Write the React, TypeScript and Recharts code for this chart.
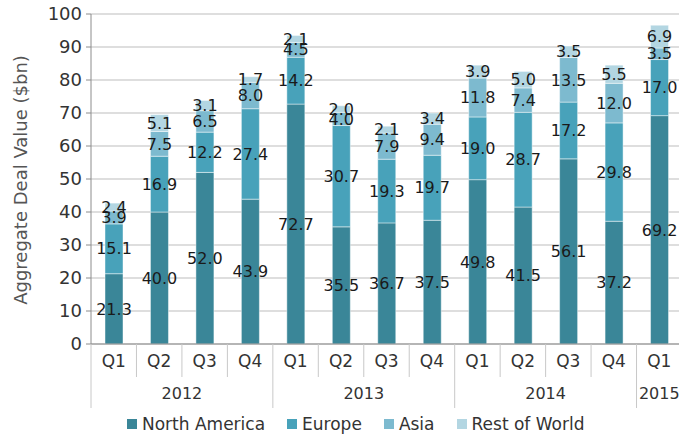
import { BarChart, Bar, XAxis, YAxis, CartesianGrid, Legend, LabelList } from 'recharts';

const quarters = ['Q1', 'Q2', 'Q3', 'Q4', 'Q1', 'Q2', 'Q3', 'Q4', 'Q1', 'Q2', 'Q3', 'Q4', 'Q1'];
const years = ['2012', '2012', '2012', '2012', '2013', '2013', '2013', '2013', '2014', '2014', '2014', '2014', '2015'];

const northAmerica = [21.3, 40.0, 52.0, 43.9, 72.7, 35.5, 36.7, 37.5, 49.8, 41.5, 56.1, 37.2, 69.2];
const europe = [15.1, 16.9, 12.2, 27.4, 14.2, 30.7, 19.3, 19.7, 19.0, 28.7, 17.2, 29.8, 17.0];
const asia = [3.9, 7.5, 6.5, 8.0, 4.5, 4.0, 7.9, 9.4, 11.8, 7.4, 13.5, 12.0, 3.5];
const restOfWorld = [2.4, 5.1, 3.1, 1.7, 2.1, 2.0, 2.1, 3.4, 3.9, 5.0, 3.5, 5.5, 6.9];

const yTicks = [0, 10, 20, 30, 40, 50, 60, 70, 80, 90, 100];

const series = [
  { key: 'northAmerica', name: 'North America', color: '#3a8698' },
  { key: 'europe', name: 'Europe', color: '#48a2ba' },
  { key: 'asia', name: 'Asia', color: '#7dbacf' },
  { key: 'restOfWorld', name: 'Rest of World', color: '#b3d6e2' },
];

const CHART_W = 682;
const CHART_H = 437;
const Y_AXIS_W = 91;
const BAND = (CHART_W - Y_AXIS_W) / quarters.length;
const FONT = '"DejaVu Sans", sans-serif';
const SEP = '#c8c8c8';

const data = quarters.map((q, i) => ({
  quarter: q,
  year: years[i],
  northAmerica: northAmerica[i],
  europe: europe[i],
  asia: asia[i],
  restOfWorld: restOfWorld[i],
}));

const startsYear = (i: number) => i === 0 || years[i] !== years[i - 1];

function QuarterTick({ x, y, payload, index }: any) {
  return (
    <g>
      {!startsYear(index) && (
        <line x1={x - BAND / 2} x2={x - BAND / 2} y1={y} y2={y + 33} stroke={SEP} />
      )}
      <text x={x} y={y + 23} textAnchor="middle" fill="#333" fontSize={17} fontFamily={FONT}>
        {payload.value}
      </text>
    </g>
  );
}

function YearTick({ x, y, index }: any) {
  if (!startsYear(index)) return <g />;
  let n = 1;
  while (years[index + n] === years[index]) n++;
  return (
    <g>
      <line x1={x - BAND / 2} x2={x - BAND / 2} y1={y - 33} y2={y + 31} stroke={SEP} />
      <text x={x + ((n - 1) * BAND) / 2} y={y + 22} textAnchor="middle" fill="#333" fontSize={16} fontFamily={FONT}>
        {years[index]}
      </text>
    </g>
  );
}

function YLabel({ viewBox }: any) {
  const cx = viewBox.x + 20;
  const cy = viewBox.y + viewBox.height / 2 + 1;
  return (
    <text
      x={cx}
      y={cy}
      transform={`rotate(-90 ${cx} ${cy})`}
      textAnchor="middle"
      dominantBaseline="central"
      fill="#555"
      fontSize={18}
      fontFamily={FONT}
    >
      Aggregate Deal Value ($bn)
    </text>
  );
}

function LegendContent() {
  return (
    <div style={{ display: 'flex', alignItems: 'center', paddingLeft: 127, height: 27, fontFamily: FONT, fontSize: 17, color: '#333' }}>
      {series.map((s) => (
        <div key={s.key} style={{ display: 'flex', alignItems: 'center', marginRight: 22 }}>
          <span style={{ width: 10, height: 10, background: s.color, marginRight: 5, display: 'inline-block' }} />
          <span>{s.name}</span>
        </div>
      ))}
    </div>
  );
}

const fmt = (v: any) => Number(v).toFixed(1);

export default function App() {
  return (
    <div style={{ position: 'absolute', left: 0, top: 0, width: 679, height: CHART_H, overflow: 'hidden', background: '#fff' }}>
      <BarChart width={CHART_W} height={CHART_H} data={data} margin={{ top: 14, right: 0, left: 0, bottom: 0 }}>
        <CartesianGrid vertical={false} stroke="#bdbdbd" />
        <YAxis
          width={Y_AXIS_W}
          domain={[0, 100]}
          ticks={yTicks}
          interval={0}
          tick={{ fill: '#333', fontSize: 18, fontFamily: FONT }}
          tickSize={5}
          tickMargin={4}
          axisLine={{ stroke: '#8c8c8c' }}
          tickLine={{ stroke: '#8c8c8c' }}
          label={YLabel}
        />
        <XAxis
          dataKey="quarter"
          xAxisId={0}
          height={33}
          interval={0}
          tickSize={0}
          tickMargin={0}
          tickLine={false}
          axisLine={{ stroke: '#8c8c8c' }}
          tick={QuarterTick}
        />
        <XAxis
          dataKey="year"
          xAxisId="year"
          height={33}
          interval={0}
          tickSize={0}
          tickMargin={0}
          tickLine={false}
          axisLine={false}
          tick={YearTick}
        />
        <Legend verticalAlign="bottom" height={27} content={LegendContent} />
        {series.map((s) => (
          <Bar
            key={s.key}
            dataKey={s.key}
            name={s.name}
            stackId="a"
            fill={s.color}
            barSize={18}
            stroke="rgba(255,255,255,0.45)"
            strokeWidth={1}
            isAnimationActive={false}
          >
            <LabelList dataKey={s.key} position="center" fill="#1a1a1a" fontSize={16} fontFamily={FONT} formatter={fmt} />
          </Bar>
        ))}
      </BarChart>
    </div>
  );
}
